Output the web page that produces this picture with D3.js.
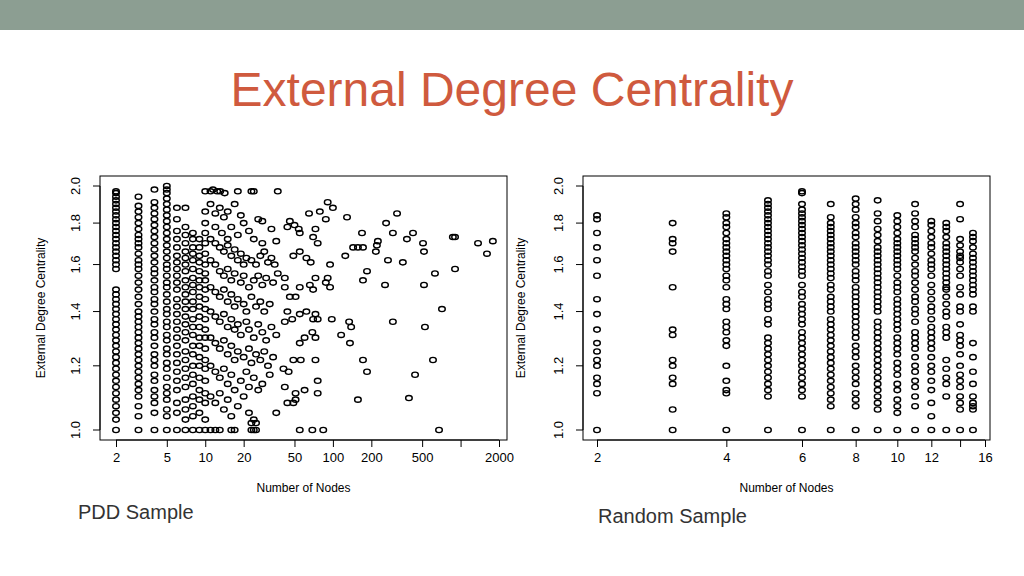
<!DOCTYPE html>
<html><head><meta charset="utf-8">
<script src="https://cdn.jsdelivr.net/npm/d3@7"></script>
<style>body{margin:0;background:#fff}svg{display:block}</style>
</head><body><svg id="c" width="1024" height="576"></svg>
<script>
// ---------- PDD sample (left) ----------
const pddCol2 = [1.0,1.03,1.05,1.07,1.09,1.11,1.13,1.15,1.17,1.19,1.21,1.23,1.25,1.27,1.29,1.31,1.33,1.35,1.37,1.39,1.41,1.43,1.45,1.47,1.49,1.58,1.6,1.62,1.64,1.66,1.68,1.7,1.72,1.74,1.76,1.78,1.8,1.82,1.84,1.86,1.88,1.9,1.92,1.94,1.96,1.97];
const pddCol3 = [1.0,1.04,1.07,1.1,1.12,1.14,1.16,1.18,1.2,1.22,1.24,1.26,1.28,1.3,1.32,1.34,1.36,1.38,1.4,1.43,1.46,1.49,1.52,1.55,1.58,1.6,1.62,1.65,1.68,1.7,1.72,1.74,1.77,1.8,1.83,1.86,1.89,1.94];
const pddCol4 = [1.0,1.05,1.08,1.1,1.12,1.15,1.17,1.2,1.22,1.24,1.27,1.3,1.32,1.35,1.37,1.4,1.43,1.45,1.48,1.5,1.53,1.56,1.58,1.61,1.64,1.67,1.7,1.73,1.76,1.79,1.82,1.85,1.88,1.91,1.98];
const pddCol5 = [1.0,1.04,1.06,1.09,1.11,1.13,1.16,1.19,1.21,1.24,1.26,1.29,1.31,1.34,1.36,1.39,1.41,1.44,1.47,1.5,1.52,1.55,1.58,1.6,1.63,1.66,1.69,1.72,1.75,1.78,1.81,1.84,1.87,1.9,1.93,1.96,1.98,2.0];
const pddCol6 = [1.0,1.05,1.08,1.12,1.15,1.18,1.21,1.24,1.27,1.3,1.33,1.36,1.39,1.42,1.45,1.49,1.52,1.55,1.58,1.61,1.64,1.68,1.72,1.76,1.82,1.88];
const pddCol7 = [1.0,1.03,1.06,1.09,1.13,1.16,1.19,1.22,1.25,1.29,1.32,1.35,1.38,1.41,1.44,1.47,1.5,1.53,1.57,1.6,1.63,1.66,1.7,1.74,1.78,1.88];
const pddCol8 = [1.0,1.04,1.07,1.1,1.14,1.17,1.2,1.24,1.27,1.31,1.34,1.37,1.41,1.44,1.48,1.51,1.54,1.58,1.62,1.65,1.68,1.72,1.75];
const pddCol9 = [1.0,1.05,1.09,1.12,1.16,1.2,1.23,1.27,1.3,1.34,1.38,1.42,1.46,1.5,1.53,1.57,1.61,1.64,1.68,1.72];
const pddCol10 = [1.0,1.03,1.08,1.11,1.15,1.19,1.22,1.26,1.3,1.33,1.37,1.41,1.45,1.49,1.53,1.56,1.6,1.65,1.7,1.75,1.8,1.86,1.97];
const pddScatter = [
 [11,1.97],[11.5,1.98],[12.4,1.97],[13.1,1.97],[14.2,1.96],[18,1.97],[23,1.97],[24,1.97],[37,1.97],
 [11,1.0],[12,1.0],[13,1.0],[16,1.0],[17,1.0],[23,1.0],[24,1.0],[25,1.0],[55,1.0],[69,1.0],[84,1.0],[678,1.0],
 [91,1.91],[100,1.88],[65,1.85],[79,1.86],[129,1.83],[88,1.82],[318,1.85],[261,1.8],[169,1.75],[295,1.75],[424,1.75],
 [380,1.72],[225,1.71],[221,1.69],[144,1.68],[157,1.68],[172,1.68],[217,1.66],[508,1.7],[517,1.66],[870,1.73],[905,1.73],
 [1370,1.7],[1790,1.71],[1610,1.65],[125,1.64],[270,1.62],[353,1.61],[905,1.58],[630,1.56],[185,1.57],[172,1.53],[256,1.51],
 [517,1.51],[715,1.41],[295,1.36],[526,1.34],[134,1.36],[139,1.34],[116,1.31],[136,1.28],[98,1.37],[608,1.22],[172,1.22],
 [185,1.18],[440,1.17],[394,1.095],[157,1.09],
 [55,1.66],[62,1.63],[49,1.64],[67,1.61],[95,1.6],[73,1.54],[91,1.54],[88,1.52],[66,1.51],[95,1.5],[70,1.49],[55,1.5],
 [46,1.46],[51,1.46],[42,1.5],[42,1.54],[55,1.39],[62,1.4],[73,1.39],[70,1.37],[76,1.37],[48,1.37],[42,1.36],[44,1.4],
 [69,1.32],[73,1.3],[60,1.3],[55,1.28],[49,1.22],[56,1.22],[73,1.22],[76,1.15],[76,1.11],[60,1.12],[51,1.11],[51,1.09],
 [44,1.08],[49,1.08],[42,1.13],[41,1.19],[45,1.18],[36,1.05],
 [44,1.78],[46,1.81],[50,1.79],[54,1.77],[55,1.75],[73,1.77],[70,1.73],[76,1.7],[36,1.71],[33,1.77],[28,1.81],
 [11,1.9],[12,1.85],[13,1.88],[14,1.83],[15,1.86],[17,1.9],[19,1.84],[12,1.78],[13.5,1.75],[15,1.72],[16,1.78],[18,1.74],
 [20,1.8],[22,1.76],[24,1.72],[26,1.82],[28,1.7],[11,1.72],[12,1.7],[13,1.68],[14,1.66],[15,1.69],[16,1.64],[17,1.67],
 [18,1.62],[19,1.65],[20,1.6],[21,1.63],[23,1.62],[25,1.6],[27,1.64],[29,1.66],[31,1.61],[33,1.63],[35,1.6],[11,1.62],
 [12,1.6],[13,1.57],[14,1.55],[15,1.58],[16,1.53],[17,1.56],[19,1.52],[20,1.55],[22,1.5],[24,1.53],[26,1.55],[28,1.51],
 [30,1.54],[34,1.52],[37,1.56],[11,1.5],[12,1.48],[13,1.46],[14,1.49],[15,1.44],[16,1.47],[17,1.42],[18,1.45],[20,1.43],
 [21,1.4],[23,1.46],[25,1.42],[27,1.44],[29,1.4],[32,1.43],[11,1.4],[12,1.38],[13,1.36],[14,1.39],[15,1.34],[16,1.37],
 [17,1.33],[18,1.35],[19,1.31],[21,1.36],[22,1.33],[24,1.3],[26,1.35],[28,1.32],[30,1.29],[33,1.34],[36,1.31],[11,1.3],
 [12,1.28],[13,1.26],[14,1.29],[15,1.24],[16,1.27],[17,1.22],[18,1.25],[20,1.23],[22,1.26],[23,1.21],[25,1.24],[27,1.22],
 [29,1.25],[31,1.2],[34,1.23],[11,1.2],[12,1.18],[13,1.16],[14,1.19],[15,1.14],[16,1.17],[17,1.12],[19,1.15],[21,1.18],
 [22,1.13],[24,1.16],[26,1.12],[28,1.14],[32,1.17],[11,1.1],[12,1.08],[13,1.11],[14,1.06],[15,1.09],[16,1.04],[18,1.07],
 [20,1.1],[22,1.05],[24,1.03],[25,1.02],[23,1.02]
];
const pddXTicks = [2,5,10,20,50,100,200,500,1000,2000];
const pddXLabels = ["2","5","10","20","50","100","200","500","","2000"];

// ---------- Random sample (right) ----------
const rndCols = {
 2:[1.0,1.11,1.14,1.16,1.2,1.22,1.25,1.28,1.33,1.39,1.45,1.55,1.62,1.68,1.75,1.82,1.84],
 3:[1.0,1.06,1.14,1.16,1.2,1.22,1.31,1.33,1.5,1.66,1.7,1.72,1.8],
 4:[1.0,1.11,1.12,1.15,1.2,1.27,1.29,1.32,1.34,1.36,1.41,1.43,1.45,1.5,1.53,1.55,1.58,1.6,1.62,1.64,1.66,1.68,1.7,1.72,1.75,1.78,1.8,1.83,1.85],
 5:[1.0,1.1,1.12,1.14,1.16,1.18,1.2,1.22,1.24,1.26,1.28,1.3,1.35,1.37,1.41,1.43,1.45,1.48,1.51,1.55,1.57,1.6,1.62,1.64,1.66,1.68,1.7,1.72,1.74,1.76,1.78,1.8,1.82,1.84,1.86,1.88,1.9,1.92],
 6:[1.0,1.1,1.12,1.14,1.16,1.18,1.2,1.22,1.24,1.26,1.28,1.3,1.32,1.35,1.37,1.39,1.41,1.43,1.46,1.48,1.51,1.55,1.57,1.59,1.61,1.63,1.65,1.67,1.69,1.71,1.73,1.75,1.77,1.79,1.81,1.83,1.85,1.87,1.9,1.96,1.97],
 7:[1.0,1.07,1.09,1.11,1.13,1.15,1.17,1.19,1.21,1.23,1.25,1.27,1.29,1.31,1.33,1.35,1.37,1.4,1.42,1.44,1.46,1.49,1.51,1.54,1.56,1.58,1.6,1.62,1.64,1.66,1.68,1.7,1.72,1.74,1.76,1.78,1.8,1.83,1.9],
 8:[1.0,1.07,1.09,1.11,1.14,1.16,1.18,1.2,1.23,1.25,1.27,1.3,1.32,1.34,1.36,1.38,1.4,1.42,1.44,1.46,1.48,1.5,1.53,1.55,1.57,1.6,1.62,1.64,1.66,1.68,1.7,1.73,1.75,1.78,1.8,1.83,1.87,1.9,1.93],
 9:[1.0,1.06,1.08,1.1,1.12,1.14,1.16,1.18,1.2,1.22,1.24,1.26,1.28,1.3,1.32,1.34,1.36,1.4,1.42,1.44,1.46,1.48,1.5,1.52,1.54,1.56,1.58,1.6,1.62,1.64,1.66,1.68,1.71,1.74,1.77,1.81,1.85,1.92],
 10:[1.0,1.05,1.07,1.09,1.12,1.14,1.17,1.19,1.21,1.24,1.26,1.28,1.3,1.33,1.35,1.37,1.39,1.41,1.43,1.45,1.48,1.5,1.52,1.55,1.58,1.6,1.62,1.64,1.66,1.68,1.7,1.72,1.75,1.78,1.81,1.84],
 11:[1.0,1.07,1.1,1.13,1.15,1.18,1.2,1.23,1.26,1.28,1.3,1.32,1.36,1.39,1.41,1.44,1.46,1.49,1.52,1.55,1.57,1.6,1.63,1.66,1.68,1.7,1.72,1.74,1.78,1.81,1.85,1.9],
 12:[1.0,1.04,1.08,1.12,1.15,1.18,1.2,1.23,1.26,1.28,1.3,1.32,1.34,1.37,1.4,1.42,1.45,1.48,1.51,1.55,1.58,1.6,1.62,1.65,1.68,1.7,1.73,1.76,1.79,1.81],
 13:[1.0,1.1,1.14,1.16,1.19,1.22,1.3,1.32,1.34,1.38,1.4,1.43,1.46,1.49,1.5,1.52,1.54,1.56,1.58,1.6,1.62,1.64,1.66,1.68,1.7,1.73,1.76,1.78,1.8],
 14:[1.0,1.06,1.08,1.1,1.13,1.15,1.17,1.2,1.24,1.27,1.29,1.31,1.35,1.4,1.42,1.47,1.5,1.55,1.58,1.61,1.63,1.64,1.66,1.69,1.72,1.82,1.9],
 15:[1.0,1.06,1.07,1.08,1.1,1.14,1.18,1.23,1.28,1.4,1.42,1.47,1.49,1.51,1.53,1.55,1.57,1.59,1.61,1.63,1.65,1.68,1.71,1.73,1.75]
};
const rndXTicks = [2,4,6,8,10,12,14,16];
const rndXLabels = ["2","4","6","8","10","12","","16"];
const yTicks = [1.0,1.2,1.4,1.6,1.8,2.0];

const svg = d3.select("#c");
const font = "Liberation Sans, Arial, sans-serif";
svg.append("rect").attr("x",0).attr("y",0).attr("width",1024).attr("height",30).attr("fill","#8c9e92");
svg.append("text").attr("x",512).attr("y",106).attr("text-anchor","middle")
  .attr("font-family",font).attr("font-size",48).attr("fill","#cf5a3e")
  .text("External Degree Centrality");

function panel(x0,x1,xDom,xr,xTicks,xLabels,points,labelX,sub,subX,subY){
  const g = svg.append("g");
  const left=x0, right=x1, top=176, bottom=440;
  const x = d3.scaleLog().domain(xDom).range(xr);
  const y = d3.scaleLog().domain([1,2]).range([430,186]);
  g.append("rect").attr("x",left).attr("y",top).attr("width",right-left).attr("height",bottom-top)
    .attr("fill","none").attr("stroke","#000").attr("stroke-width",1);
  const xa = d3.axisBottom(x).tickValues(xTicks).tickFormat((d,i)=>xLabels[i]).tickSize(7).tickPadding(6);
  const gx = g.append("g").attr("transform",`translate(0,${bottom})`).call(xa);
  gx.select(".domain").attr("d",`M${x(xTicks[0])},0H${x(xTicks[xTicks.length-1])}`);
  gx.selectAll("text").attr("font-family",font).attr("font-size",13).attr("fill","#000");
  const ya = d3.axisLeft(y).tickValues(yTicks).tickFormat(d3.format(".1f")).tickSize(7).tickPadding(6);
  const gy = g.append("g").attr("transform",`translate(${left},0)`).call(ya);
  gy.select(".domain").attr("d",`M0,${y(1)}V${y(2)}`);
  gy.selectAll("text").attr("font-family",font).attr("font-size",13).attr("fill","#000")
    .attr("text-anchor","middle").attr("dy","0").attr("x",0)
    .attr("transform",d=>`translate(${-20},${y(d)}) rotate(-90)`).attr("y",0);
  gy.selectAll(".tick").attr("transform",null);
  gy.selectAll(".tick line").attr("transform",d=>`translate(0,${y(d)})`);
  g.selectAll("ellipse.p").data(points).enter().append("ellipse")
    .attr("cx",d=>x(d[0])).attr("cy",d=>y(d[1])).attr("rx",3.3).attr("ry",2.6)
    .attr("fill","none").attr("stroke","#000").attr("stroke-width",1.4);
  g.append("text").attr("x",(left+right)/2).attr("y",492).attr("text-anchor","middle")
    .attr("font-family",font).attr("font-size",12).text("Number of Nodes");
  g.append("text").attr("transform",`translate(${labelX},308) rotate(-90)`).attr("text-anchor","middle")
    .attr("font-family",font).attr("font-size",12).text("External Degree Centrality");
  svg.append("text").attr("x",subX).attr("y",subY).attr("font-family",font)
    .attr("font-size",20).attr("fill","#333").text(sub);
}

const pddPoints = [];
[[2,pddCol2],[3,pddCol3],[4,pddCol4],[5,pddCol5],[6,pddCol6],[7,pddCol7],[8,pddCol8],[9,pddCol9],[10,pddCol10]]
  .forEach(([xv,ys])=>ys.forEach(v=>pddPoints.push([xv,v])));
pddScatter.forEach(p=>pddPoints.push(p));
const rndPoints = [];
Object.keys(rndCols).forEach(k=>rndCols[k].forEach(v=>rndPoints.push([+k,v])));

panel(100,507,[2,2000],[116,499],pddXTicks,pddXLabels,pddPoints,45,"PDD Sample",78,519);
panel(583,990,[2,16],[597,985],rndXTicks,rndXLabels,rndPoints,525,"Random Sample",598,523);
</script></body></html>
